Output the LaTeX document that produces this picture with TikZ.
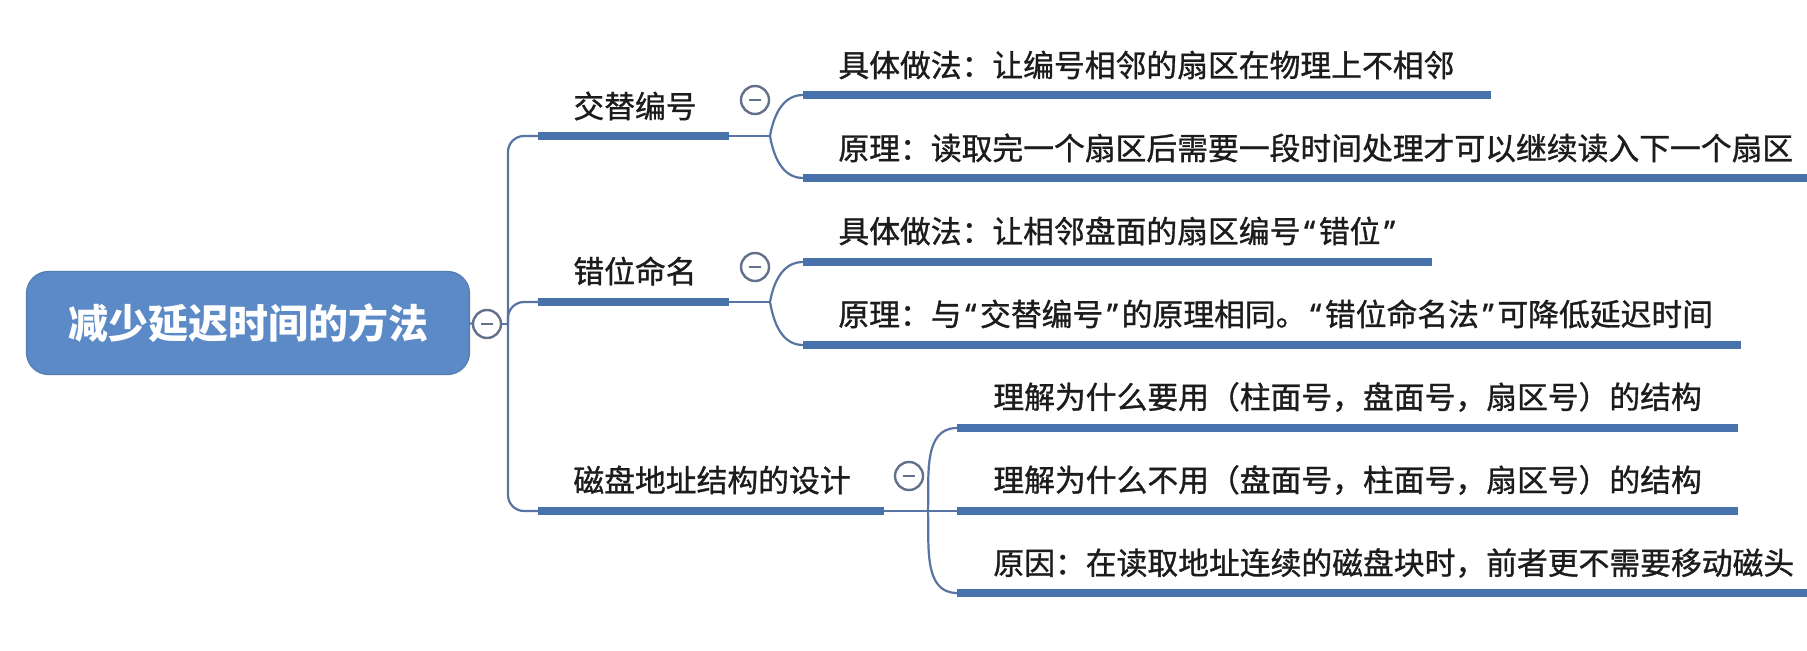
\documentclass[tikz,border=0pt]{standalone}
\usepackage{fontspec}
\setmainfont{Noto Sans CJK SC}
\newfontfamily\leaffont{Noto Sans CJK SC}[FakeBold=1]
\newfontfamily\quotefont{Noto Sans}[FakeBold=1]
\newcommand\zhquote[1]{{\quotefont\hspace{0.12em}“\hspace{0.12em}}#1{\quotefont\hspace{0.12em}”\hspace{0.12em}}}
\usetikzlibrary{calc}

\definecolor{rootblue}{RGB}{91,138,198}
\definecolor{barblue}{RGB}{72,114,172}
\definecolor{linkblue}{RGB}{88,116,162}
\definecolor{foldgray}{RGB}{98,112,138}
\definecolor{textdark}{RGB}{28,28,28}

\begin{document}
\begin{tikzpicture}[
    x=0.5pt, y=-0.5pt,
    rootnode/.style={
        fill=rootblue,
        draw=rootblue!90!black,
        rounded corners=11pt,
        line width=0.6pt,
        minimum width=221.5pt,
        minimum height=51.5pt,
        text=white,
        font=\fontsize{20}{24}\selectfont\bfseries
    },
    topicnode/.style={
        anchor=west,
        inner sep=0pt,
        text=textdark,
        font=\leaffont\fontsize{15.4}{18}\selectfont
    },
    leafnode/.style={
        topicnode
    },
    bar/.style={
        draw=barblue,
        line width=4pt
    },
    link/.style={
        draw=linkblue,
        line width=1.1pt
    },
    foldnode/.style={
        circle,
        draw=foldgray,
        fill=white,
        line width=1.2pt,
        minimum size=14pt,
        inner sep=0pt,
        path picture={
            \draw[foldgray, line width=1pt]
                ([xshift=-3.2pt]path picture bounding box.center) --
                ([xshift=3.2pt]path picture bounding box.center);
        }
    }
]
    \fill[white] (0,0) rectangle (1807,651);
    \useasboundingbox (0,0) rectangle (1807,651);

    % --- ROOT ---
    \node[rootnode] (root) at (248,323) {减少延迟时间的方法};
    \node[foldnode] (fold0) at (487,324) {};

    \coordinate (sp1) at (508,136);
    \coordinate (sp2) at (508,324);
    \coordinate (sp2b) at (508,302);
    \coordinate (sp3) at (508,511);

    \draw[link] (root.east) -- (fold0.west);
    \draw[link] (fold0.east) -- (sp2);

    % --- BRANCH 1: INTERLEAVED NUMBERING ---
    \coordinate (b1s) at (538,136);
    \coordinate (b1e) at (729,136);
    \coordinate (bp1) at (770,136);
    \node[topicnode] (t1) at (573,106) {交替编号};
    \node[foldnode] (fold1) at (755,100) {};

    \coordinate (c11s) at (803,95);
    \coordinate (c11e) at (1491,95);
    \coordinate (c12s) at (803,178);
    \coordinate (c12e) at (1807,178);
    \node[leafnode] (l11) at (838,65) {具体做法：让编号相邻的扇区在物理上不相邻};
    \node[leafnode] (l12) at (838,148) {原理：读取完一个扇区后需要一段时间处理才可以继续读入下一个扇区};

    % --- BRANCH 2: STAGGERED NAMING ---
    \coordinate (b2s) at (538,302);
    \coordinate (b2e) at (729,302);
    \coordinate (bp2) at (770,302);
    \node[topicnode] (t2) at (573,271) {错位命名};
    \node[foldnode] (fold2) at (755,267) {};

    \coordinate (c21s) at (803,262);
    \coordinate (c21e) at (1432,262);
    \coordinate (c22s) at (803,345);
    \coordinate (c22e) at (1741,345);
    \node[leafnode] (l21) at (838,231) {具体做法：让相邻盘面的扇区编号\zhquote{错位}};
    \node[leafnode] (l22) at (838,314) {原理：与\zhquote{交替编号}的原理相同。\zhquote{错位命名法}可降低延迟时间};

    % --- BRANCH 3: DISK ADDRESS STRUCTURE ---
    \coordinate (b3s) at (538,511);
    \coordinate (b3e) at (884,511);
    \coordinate (bp3) at (928,511);
    \node[topicnode] (t3) at (573,480) {磁盘地址结构的设计};
    \node[foldnode] (fold3) at (909,476) {};

    \coordinate (c31s) at (957,428);
    \coordinate (c31e) at (1738,428);
    \coordinate (c32s) at (957,511);
    \coordinate (c32e) at (1738,511);
    \coordinate (c33s) at (957,593);
    \coordinate (c33e) at (1807,593);
    \node[leafnode] (l31) at (993,397) {理解为什么要用（柱面号，盘面号，扇区号）的结构};
    \node[leafnode] (l32) at (993,480) {理解为什么不用（盘面号，柱面号，扇区号）的结构};
    \node[leafnode] (l33) at (993,563) {原因：在读取地址连续的磁盘块时，前者更不需要移动磁头};

    % --- CONNECTORS ---
    \draw[link, rounded corners=8pt] (b1s) -- (sp1) -- (sp3) -- (b3s);
    \draw[link, rounded corners=8pt] (sp2) -- (sp2b) -- (b2s);

    \draw[link] (b1e) -- (bp1);
    \draw[link] (bp1) to[out=80, in=180] (c11s);
    \draw[link] (bp1) to[out=-80, in=180] (c12s);

    \draw[link] (b2e) -- (bp2);
    \draw[link] (bp2) to[out=80, in=180] (c21s);
    \draw[link] (bp2) to[out=-80, in=180] (c22s);

    \draw[link] (b3e) -- (c32s);
    \draw[link] (bp3) to[out=88, in=180] (c31s);
    \draw[link] (bp3) to[out=-88, in=180] (c33s);

    % --- UNDERLINE BARS ---
    \draw[bar] (b1s) -- (b1e);
    \draw[bar] (b2s) -- (b2e);
    \draw[bar] (b3s) -- (b3e);
    \draw[bar] (c11s) -- (c11e);
    \draw[bar] (c12s) -- (c12e);
    \draw[bar] (c21s) -- (c21e);
    \draw[bar] (c22s) -- (c22e);
    \draw[bar] (c31s) -- (c31e);
    \draw[bar] (c32s) -- (c32e);
    \draw[bar] (c33s) -- (c33e);
\end{tikzpicture}
\end{document}
